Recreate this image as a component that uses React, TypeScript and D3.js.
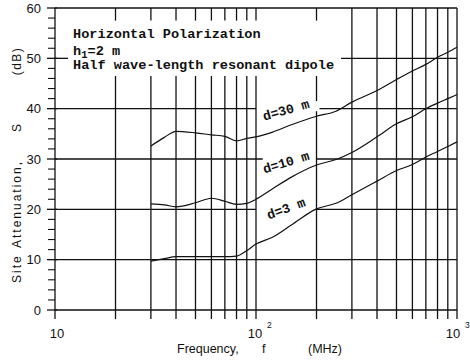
import React from 'react';
import * as d3 from 'd3';

// frequency points (MHz)
const FREQ = [30, 35, 40, 50, 60, 70, 80, 90, 100, 120, 150, 200, 250, 300, 400, 500, 600, 700, 800, 900, 1000];
const SA_30M = [32.6, 34.3, 35.5, 35.2, 34.8, 34.5, 33.6, 34.1, 34.4, 35.3, 36.8, 38.5, 39.5, 41.3, 43.6, 45.8, 47.5, 48.8, 50.2, 51.2, 52.2];
const SA_10M = [21.1, 20.9, 20.5, 21.3, 22.2, 21.6, 21.0, 21.2, 22.0, 24.0, 26.4, 28.8, 29.9, 31.3, 34.4, 37.0, 38.4, 40.0, 41.1, 42.0, 42.8];
const SA_3M = [9.7, 10.2, 10.6, 10.6, 10.6, 10.6, 10.7, 11.8, 13.1, 14.4, 16.9, 20.1, 21.2, 22.9, 25.6, 27.7, 28.9, 30.4, 31.5, 32.5, 33.4];

const SERIES_LABELS = ['d=30 m', 'd=10 m', 'd=3 m'];
const SERIES = [SA_30M, SA_10M, SA_3M];

const V_GRID = [10, 20, 30, 40, 50, 60, 70, 80, 90, 100, 200, 300, 400, 500, 600, 700, 800, 900, 1000];
const Y_MAJOR = [0, 10, 20, 30, 40, 50, 60];
const X_LABELS = [
  { f: 10, base: '10', exp: '' },
  { f: 100, base: '10', exp: '2' },
  { f: 1000, base: '10', exp: '3' },
];

const W = 470;
const H = 363;

const App: React.FC = () => {
  const x = d3.scaleLog().domain([10, 1000]).range([55, 457]);
  const y = d3.scaleLinear().domain([0, 60]).range([310, 8]);

  const line = d3.line<[number, number]>()
    .x(d => x(d[0]))
    .y(d => y(d[1]))
    .curve(d3.curveMonotoneX);

  const ink = '#111';
  const gridW = 1.3;

  // vertical grid: broken behind the text block (and near the d=30 label for 200 MHz)
  const vSegs: [number, number, number][] = [];
  V_GRID.forEach(f => {
    const bottom = -1.8;
    if (f > 10 && f <= 200) {
      vSegs.push([f, 57.5, 60]);
      if (f === 200) {
        vSegs.push([f, 41.5, 46.5]);
        vSegs.push([f, bottom, 39.5]);
      } else {
        vSegs.push([f, bottom, 46.5]);
      }
    } else {
      vSegs.push([f, bottom, 60]);
    }
  });

  // horizontal grid: broken around curve labels and text block
  const hSegs: [number, number, number][] = [];
  Y_MAJOR.forEach(v => {
    if (v === 20 || v === 30 || v === 40) {
      hSegs.push([v, 10, v === 30 ? 108 : 100]);
      hSegs.push([v, v === 40 ? 207 : 200, 1000]);
    } else if (v === 50) {
      hSegs.push([v, 10, 11.6]);
      hSegs.push([v, 265, 1000]);
    } else {
      hSegs.push([v, 10, 1000]);
    }
  });

  const minor = d3.range(0, 61, 2).filter(v => v % 10 !== 0);
  const labelF = 141;
  const labelV = [39.8, 29.4, 20.2];
  const labelRot = [-16, -17, -20];

  const mono = '"Liberation Mono", "DejaVu Sans Mono", monospace';
  const sans = '"Liberation Sans", Arial, sans-serif';

  return (
    <svg width={W} height={H} style={{ position: 'absolute', left: 0, top: 0, background: '#fff' }}>
      <rect width={W} height={H} fill="#fff" />

      {/* grid */}
      <g stroke={ink} strokeWidth={gridW} fill="none">
        {vSegs.map(([f, a, b], i) => (
          <line key={'v' + i} x1={x(f)} x2={x(f)} y1={y(a)} y2={y(b)} />
        ))}
        {hSegs.map(([v, a, b], i) => (
          <line key={'h' + i} x1={x(a)} x2={x(b)} y1={y(v)} y2={y(v)} />
        ))}
        {Y_MAJOR.map(v => (
          <line key={'mt' + v} x1={x(10) - 8} x2={x(10) + 2} y1={y(v)} y2={y(v)} />
        ))}
        {minor.map(v => (
          <line key={'nt' + v} x1={x(10) - 7} x2={x(10)} y1={y(v)} y2={y(v)} strokeWidth={1.1} />
        ))}
      </g>

      {/* curves */}
      <g stroke={ink} strokeWidth={1.2} fill="none">
        {SERIES.map((vals, i) => (
          <path key={'s' + i} d={line(FREQ.map((f, j) => [f, vals[j]] as [number, number])) || ''} />
        ))}
      </g>

      {/* curve labels */}
      {SERIES_LABELS.map((t, i) => (
        <text
          key={'l' + i}
          transform={`translate(${x(labelF)},${y(labelV[i])}) rotate(${labelRot[i]})`}
          textAnchor="middle"
          dy="0.35em"
          fontFamily={mono}
          fontWeight="bold"
          fontSize={13.3}
          fill={ink}
        >
          {t}
        </text>
      ))}

      {/* annotation block */}
      <g fontFamily={mono} fontWeight="bold" fontSize={13.6} fill={ink}>
        <text x={73} y={37.5}>Horizontal Polarization</text>
        <text x={73} y={55}>
          h<tspan fontSize={10.5} dy={3}>1</tspan><tspan dy={-3}>=2 m</tspan>
        </text>
        <text x={73} y={69}>Half wave-length resonant dipole</text>
      </g>

      {/* y tick labels */}
      <g fontFamily={sans} fontSize={13} fill={ink} textAnchor="end">
        {Y_MAJOR.map(v => (
          <text key={'yl' + v} x={41} y={y(v)} dy="0.36em">{v}</text>
        ))}
      </g>

      {/* x tick labels */}
      <g fontFamily={sans} fontSize={13} fill={ink}>
        {X_LABELS.map(d => {
          const dx = d.f === 10 ? 2 : d.f === 100 ? -1 : -4;
          return (
            <g key={'xl' + d.f}>
              <text x={x(d.f) + dx} y={338} textAnchor="middle">{d.base}</text>
              {d.exp && (
                <text x={x(d.f) + dx + 12} y={328} fontSize={8.5}>{d.exp}</text>
              )}
            </g>
          );
        })}
      </g>

      {/* axis titles */}
      <g fontFamily={sans} fontSize={12.5} fill={ink}>
        <text x={177} y={353}>Frequency,</text>
        <text x={262} y={353}>f</text>
        <text x={308} y={353}>(MHz)</text>
      </g>
      <g fontFamily={sans} fontSize={12} fill={ink} letterSpacing={2}>
        <text transform="translate(21,283) rotate(-90)">Site</text>
        <text transform="translate(21,248) rotate(-90)">Attenuation,</text>
        <text transform="translate(21,128) rotate(-90)" textAnchor="middle" letterSpacing={0}>S</text>
        <text transform="translate(21,61) rotate(-90)" textAnchor="middle" letterSpacing={1.5}>(dB)</text>
      </g>
    </svg>
  );
};

export default App;
